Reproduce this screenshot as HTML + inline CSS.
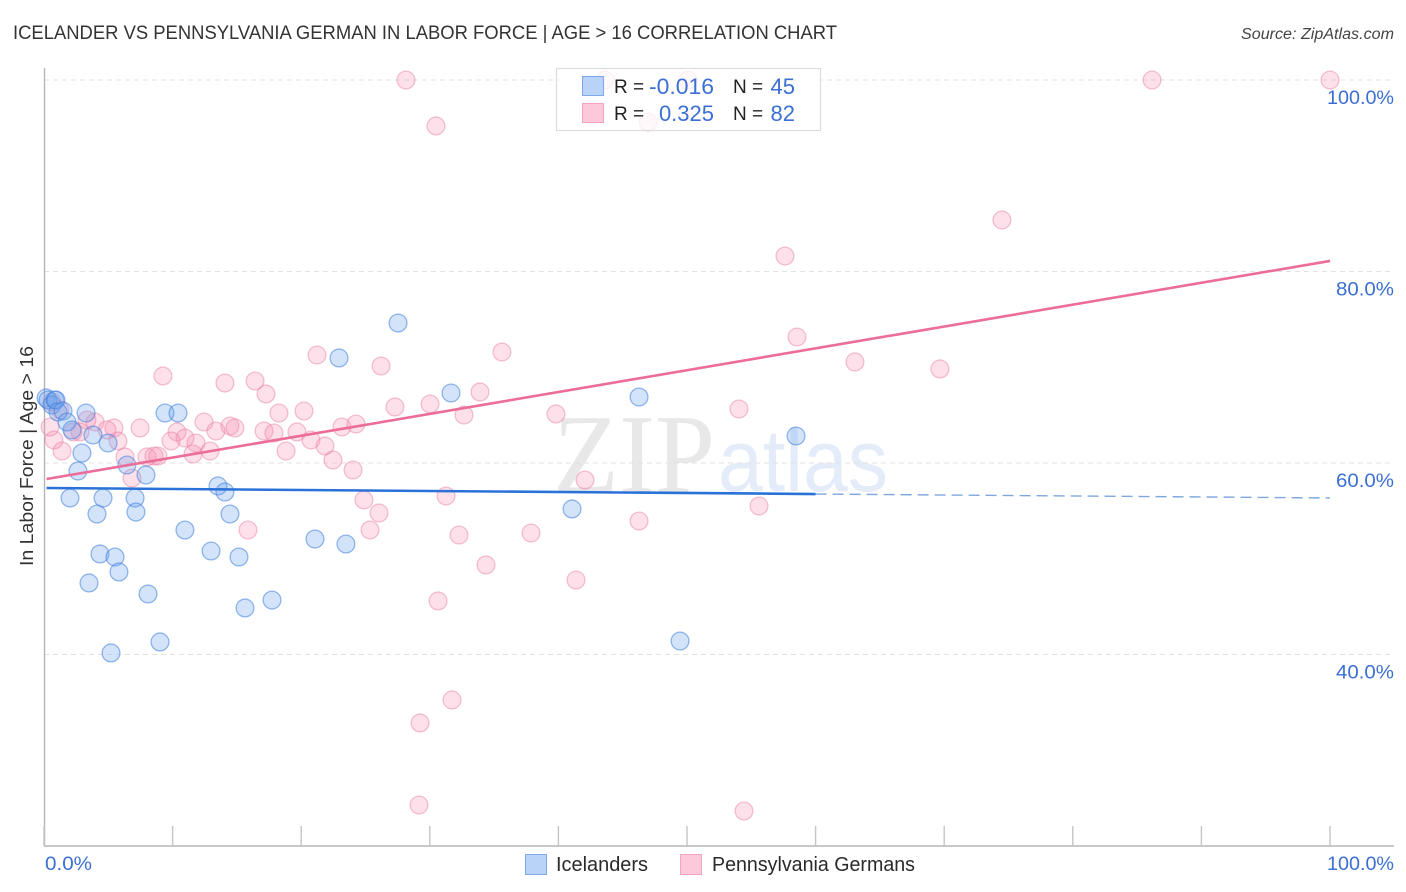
<!DOCTYPE html>
<html lang="en">
<head>
<meta charset="utf-8">
<title>Icelander vs Pennsylvania German in Labor Force | Age > 16 Correlation Chart</title>
<style>
html,body{margin:0;padding:0;background:#fff;width:1406px;height:892px;overflow:hidden}
svg{display:block}
text{font-family:"Liberation Sans",sans-serif}
.tick{fill:#3b6fd4;font-size:19px}
.lab{fill:#222;font-size:19px}
.val{fill:#3b6fd4;font-size:22px}
.leg{fill:#2a2a2a;font-size:20px}
</style>
</head>
<body>
<svg id="chart" width="1406" height="892" viewBox="0 0 1406 892" xmlns="http://www.w3.org/2000/svg">
<text x="13" y="39" font-size="19" fill="#333" textLength="824" lengthAdjust="spacingAndGlyphs">ICELANDER VS PENNSYLVANIA GERMAN IN LABOR FORCE | AGE &gt; 16 CORRELATION CHART</text>
<text x="1241" y="39" font-size="15.5" font-style="italic" fill="#444" textLength="153" lengthAdjust="spacingAndGlyphs">Source: ZipAtlas.com</text>
<text x="553" y="492" font-size="112" fill="#e8e8e8" style="font-family:'Liberation Serif',serif" textLength="162" lengthAdjust="spacingAndGlyphs">ZIP</text>
<text x="718" y="491" font-size="88" fill="#e4ecf9" textLength="170" lengthAdjust="spacingAndGlyphs">atlas</text>
<g id="grid"></g>
<g id="axes"></g>
<g id="pink-points"></g>
<g id="blue-points"></g>
<g id="trends"></g>
<text transform="translate(33,456) rotate(-90)" font-size="18.5" fill="#333" text-anchor="middle" textLength="220" lengthAdjust="spacingAndGlyphs">In Labor Force | Age &gt; 16</text>
<g>
<rect x="556.5" y="68.5" width="264" height="62" fill="#fff" fill-opacity="0.78" stroke="#dcdcdc" stroke-width="1.2"/>
<rect x="582.5" y="76.5" width="21" height="19" fill="#b9d3f8" stroke="#7fa8e6"/>
<rect x="582.5" y="103.5" width="21" height="19" fill="#fdc9da" stroke="#f3a5c0"/>
<text class="lab" x="614" y="93">R =</text>
<text class="val" x="714" y="94" text-anchor="end" textLength="65" lengthAdjust="spacingAndGlyphs">-0.016</text>
<text class="lab" x="733" y="93">N =</text>
<text class="val" x="795" y="94" text-anchor="end">45</text>
<text class="lab" x="614" y="120">R =</text>
<text class="val" x="714" y="121" text-anchor="end">0.325</text>
<text class="lab" x="733" y="120">N =</text>
<text class="val" x="795" y="121" text-anchor="end">82</text>
</g>
<g>
<rect x="525.5" y="854.5" width="21" height="20" fill="#b9d3f8" stroke="#7fa8e6"/>
<text class="leg" x="556" y="871" textLength="92" lengthAdjust="spacingAndGlyphs">Icelanders</text>
<rect x="680.5" y="854.5" width="21" height="20" fill="#fdc9da" stroke="#f3a5c0"/>
<text class="leg" x="712" y="871" textLength="203" lengthAdjust="spacingAndGlyphs">Pennsylvania Germans</text>
</g>
</svg>
<script>
var yTickValues = [100, 80, 60, 40];
var yTickLabels = ["100.0%", "80.0%", "60.0%", "40.0%"];
var xTickValues = [0, 10, 20, 30, 40, 50, 60, 70, 80, 90, 100];
var xEndValues = [0, 100];
var xEndLabels = ["0.0%", "100.0%"];

var blueX = [0.16,0.31,0.62,0.86,0.93,1.09,1.48,1.79,2.18,3.27,3.81,4.98,2.95,2.64,2.02,4.59,4.12,6.45,7.93,7.08,7.15,4.35,5.52,5.83,3.50,8.09,5.21,9.02,9.41,10.42,10.96,12.99,13.53,14.07,14.46,15.16,15.63,17.73,21.07,23.48,22.94,27.53,31.65,41.06,46.27,49.46,58.48];
var blueY = [66.79,66.58,66.06,66.58,66.58,65.33,65.43,64.28,63.45,65.22,62.92,62.09,61.04,59.16,56.34,56.34,54.67,59.79,58.75,56.34,54.88,50.50,50.18,48.62,47.47,46.32,40.16,41.31,65.22,65.22,53.00,50.81,57.60,56.97,54.67,50.18,44.86,45.69,52.06,51.54,70.97,74.62,67.31,55.20,66.89,41.41,62.82];

var pinkX = [28.15,43.62,50.08,86.16,100,30.48,46.97,74.49,57.62,58.55,63.06,69.67,9.25,14.07,16.41,17.26,21.23,26.21,35.61,33.90,27.29,30.02,32.66,39.81,54.04,18.27,20.22,12.44,14.46,14.85,13.37,10.34,10.96,9.88,11.82,11.59,12.91,17.11,17.88,19.67,20.76,21.85,18.82,22.47,23.17,24.26,24.03,24.88,26.05,25.35,31.26,32.27,34.37,37.87,42.07,41.37,46.27,55.60,30.64,31.73,29.24,29.16,54.43,15.86,5.44,7.47,5.75,3.97,3.34,4.90,2.80,2.26,1.40,0.78,0.47,1.24,0.62,6.30,6.84,8.01,8.55,8.86];
var pinkY = [100,100,100,100,100,95.20,95.61,85.38,81.62,73.16,70.55,69.82,69.09,68.35,68.56,67.21,71.28,70.13,71.59,67.42,65.85,66.16,65.01,65.12,65.64,65.22,65.43,64.28,63.86,63.66,63.34,63.24,62.61,62.30,62.09,60.94,61.25,63.34,63.13,63.24,62.40,61.78,61.25,60.31,63.76,64.07,59.27,56.14,54.78,53.00,56.55,52.48,49.35,52.69,58.22,47.78,53.94,55.51,45.59,35.25,32.85,24.28,23.65,53.00,63.66,63.66,62.30,64.28,64.49,63.45,63.24,63.24,61.25,62.40,63.76,65.54,66.37,60.63,58.43,60.63,60.73,60.73];

var blueTrendX = [0.2, 60];
var blueTrendY = [57.39, 56.76];
var blueTrendDashX = [60, 100];
var blueTrendDashY = [56.76, 56.35];
var pinkTrendX = [0.2, 100];
var pinkTrendY = [58.33, 81.1];

var NS = "http://www.w3.org/2000/svg";
function xAxis(v){ return 44 + v * 12.86; }
function yAxis(v){ return 80 + (100 - v) * 9.575; }
function make(tag, attrs, parent){
  var el = document.createElementNS(NS, tag);
  for (var k in attrs) el.setAttribute(k, attrs[k]);
  parent.appendChild(el);
  return el;
}
var grid = document.getElementById("grid");
var axes = document.getElementById("axes");
yTickValues.forEach(function(v, i){
  var ln = make("line", {x1:44, x2:1394, y1:yAxis(v), y2:yAxis(v), stroke:"#e2e2e2", "stroke-width":1, "stroke-dasharray":"5 4"}, grid);
  
  
  var t = make("text", {x:1394, y:yAxis(v) + 24, "text-anchor":"end", "class":"tick", textLength: yTickLabels[i].length > 5 ? 67 : 58, lengthAdjust:"spacingAndGlyphs"}, axes);
  t.textContent = yTickLabels[i];
  
  
});
var yAxisLine = make("line", {x1:44.5, x2:44.5, y1:68, y2:846, stroke:"#b5b5b5", "stroke-width":1.4}, axes);


var xAxisLine = make("line", {x1:44, x2:1394, y1:846, y2:846, stroke:"#b5b5b5", "stroke-width":1.4}, axes);


xTickValues.forEach(function(v){
  var tk = make("line", {x1:xAxis(v), x2:xAxis(v), y1:826, y2:846, stroke:"#c4c4c4", "stroke-width":1.4}, axes);
  
  
});
xEndValues.forEach(function(v, i){
  var t = make("text", {x: i === 0 ? xAxis(v) + 1 : 1394, y:870, "text-anchor": i === 0 ? "start" : "end", "class":"tick", textLength: i === 0 ? 47 : 67, lengthAdjust:"spacingAndGlyphs"}, axes);
  t.textContent = xEndLabels[i];
  
  
});
var pinkG = document.getElementById("pink-points");
pinkX.forEach(function(v, i){
  var c = make("circle", {cx:xAxis(v), cy:yAxis(pinkY[i]), r:8.9, fill:"#f78fb0", "fill-opacity":0.28, stroke:"#e67a9f", "stroke-opacity":0.45, "stroke-width":1.3}, pinkG);
  
  
});
var blueG = document.getElementById("blue-points");
blueX.forEach(function(v, i){
  var c = make("circle", {cx:xAxis(v), cy:yAxis(blueY[i]), r:8.9, fill:"#6ba3ee", "fill-opacity":0.3, stroke:"#3f80dc", "stroke-opacity":0.55, "stroke-width":1.3}, blueG);
  
  
});
var trends = document.getElementById("trends");
var pl = make("line", {x1:xAxis(pinkTrendX[0]), y1:yAxis(pinkTrendY[0]), x2:xAxis(pinkTrendX[1]), y2:yAxis(pinkTrendY[1]), stroke:"#ec6c9a", "stroke-width":2.6}, trends);


var bl = make("line", {x1:xAxis(blueTrendX[0]), y1:yAxis(blueTrendY[0]), x2:xAxis(blueTrendX[1]), y2:yAxis(blueTrendY[1]), stroke:"#2a72d8", "stroke-width":2.6}, trends);


var bd = make("line", {x1:xAxis(blueTrendDashX[0]), y1:yAxis(blueTrendDashY[0]), x2:xAxis(blueTrendDashX[1]), y2:yAxis(blueTrendDashY[1]), stroke:"#7ea6df", "stroke-width":1.4, "stroke-dasharray":"11 6"}, trends);


</script>
</body>
</html>
